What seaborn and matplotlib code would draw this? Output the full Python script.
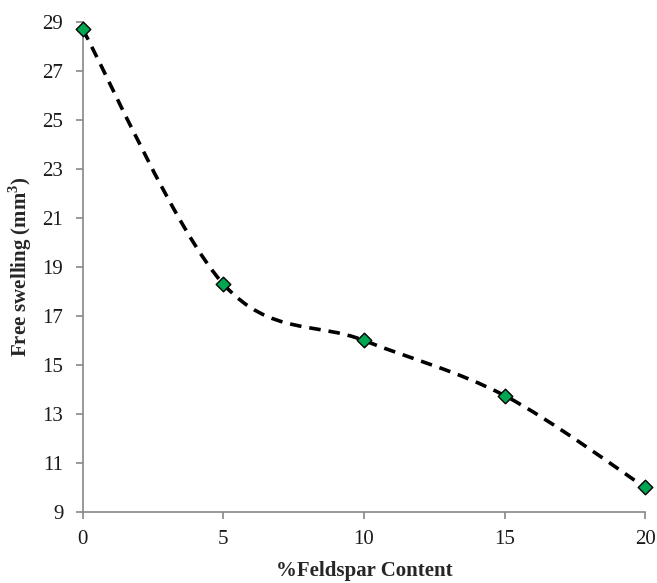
import numpy as np
import matplotlib
matplotlib.use("Agg")
import matplotlib.pyplot as plt
from matplotlib.path import Path
from matplotlib.patches import PathPatch
import seaborn as sns

# values
feldspar = [0, 5, 10, 15, 20]
swelling = [28.7, 18.3, 16.0, 13.75, 10.0]
y_ticks = [9, 11, 13, 15, 17, 19, 21, 23, 25, 27, 29]
x_ticks = [0, 5, 10, 15, 20]

sns.set_style("white")
plt.rcParams["font.family"] = ["Liberation Serif", "DejaVu Serif"]
plt.rcParams["mathtext.fontset"] = "custom"
plt.rcParams["mathtext.rm"] = "Liberation Serif"
plt.rcParams["mathtext.bf"] = "Liberation Serif:bold"

fig = plt.figure(figsize=(6.57, 5.83), dpi=100)
ax = fig.add_axes([0.126, 0.122, 0.856, 0.84])

# Excel-style smoothed line: cubic Bezier segments through the data points
pts = np.column_stack([feldspar, swelling]).astype(float)
ext = np.vstack([pts[0], pts, pts[-1]])
verts = [tuple(pts[0])]
codes = [Path.MOVETO]
for i in range(len(pts) - 1):
    p0, p1, p2, p3 = ext[i], ext[i + 1], ext[i + 2], ext[i + 3]
    c1 = p1 + (p2 - p0) / 6
    c2 = p2 - (p3 - p1) / 6
    verts += [tuple(c1), tuple(c2), tuple(p2)]
    codes += [Path.CURVE4] * 3
ax.add_patch(PathPatch(Path(verts, codes), fill=False, edgecolor="black",
                       lw=2.6, linestyle=(0, (3.2, 2.2)), zorder=2))

sns.scatterplot(x=feldspar, y=swelling, marker="D", s=55, color="#00a651",
                edgecolor="black", linewidth=1.0, zorder=3, ax=ax, clip_on=False)

ax.set_xlim(0, 20)
ax.set_ylim(9, 29)
ax.set_xticks(x_ticks)
ax.set_yticks(y_ticks)
ax.tick_params(axis="both", labelsize=15, colors="#888888", labelcolor="#1a1a1a",
               length=5, width=1.2, direction="out", pad=9,
               bottom=True, left=True)
ax.tick_params(axis="x", pad=8)

for side in ["top", "right"]:
    ax.spines[side].set_visible(False)
for side in ["left", "bottom"]:
    ax.spines[side].set_color("#888888")
    ax.spines[side].set_linewidth(1.2)

ax.set_xlabel("%Feldspar Content", fontsize=15, fontweight="bold", labelpad=9)
ax.set_ylabel("Free swelling (mm$^\\mathbf{3}$)", fontsize=15, fontweight="bold", labelpad=6)

fig.savefig("out.png", dpi=100)
